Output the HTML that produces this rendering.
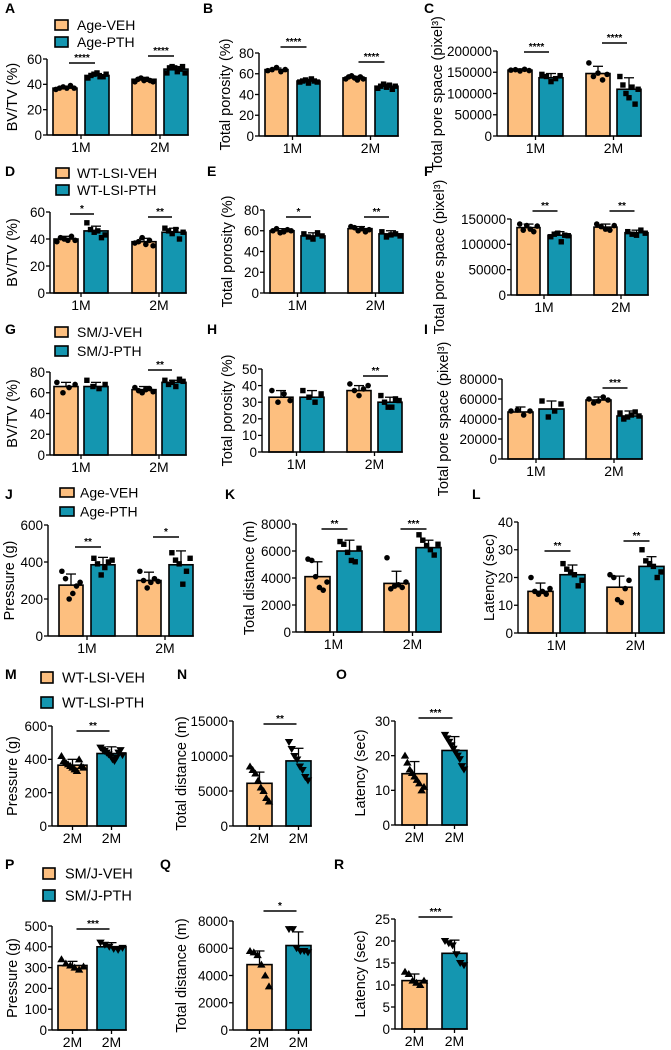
<!DOCTYPE html>
<html><head><meta charset="utf-8">
<style>
html,body{margin:0;padding:0;background:#fff;}
svg{display:block;font-family:"Liberation Sans",Arial,sans-serif;}
</style></head>
<body>
<svg id="fig" width="671" height="1050" viewBox="0 0 671 1050" xmlns="http://www.w3.org/2000/svg"></svg>
<script>
// ---- data arrays ----
const catsA=['1M','2M']; const vehA=[37,44]; const pthA=[47,52]; const vehSdA=[1,1.5]; const pthSdA=[1.5,2];
const vehPtsA=[[36,37,38,37,39,37],[42,44,45,43,44,43,42]]; const pthPtsA=[[45,47,48,49,46,46,48],[49,53,54,53,50,52,54,49]]; const ticksA=[0,20,40,60];
const catsB=['1M','2M']; const vehB=[64,56]; const pthB=[53,48]; const vehSdB=[1.5,1.5]; const pthSdB=[1.5,2];
const vehPtsB=[[63,64,66,62,64],[55,57,58,56,54,57,55]]; const pthPtsB=[[52,53,54,51,55,53,52],[46,48,50,47,49,45,48]]; const ticksB=[0,20,40,60,80];
const catsC=['1M','2M']; const vehC=[155000,147000]; const pthC=[137000,110000]; const vehSdC=[3000,17000]; const pthSdC=[10000,27000];
const vehPtsC=[[155000,156000,153000,157000,154000],[172000,140000,148000,132000,145000]]; const pthPtsC=[[145000,140000,128000,135000,142000],[140000,120000,100000,90000,115000,75000,110000]]; const ticksC=[0,50000,100000,150000,200000];
const catsD=['1M','2M']; const vehD=[40,38]; const pthD=[46,45]; const vehSdD=[2,2.5]; const pthSdD=[3.5,3];
const vehPtsD=[[38,41,40,39,42,39],[37,38,41,36,39,35]]; const pthPtsD=[[52,47,45,46,41,43],[48,46,44,47,40,45]]; const ticksD=[0,20,40,60];
const catsE=['1M','2M']; const vehE=[60,62]; const pthE=[55,57]; const vehSdE=[2,2]; const pthSdE=[3,3];
const vehPtsE=[[60,62,58,59,61,60],[64,63,60,62,59,61]]; const pthPtsE=[[57,54,52,58,55],[59,54,56,57,55]]; const ticksE=[0,20,40,60,80];
const catsF=['1M','2M']; const vehF=[133000,134000]; const pthF=[118000,123000]; const vehSdF=[7000,6000]; const pthSdF=[7000,5000];
const vehPtsF=[[140000,128000,137000,130000,125000,136000],[140000,135000,130000,128000,137000]]; const pthPtsF=[[115000,120000,122000,105000,118000,117000],[125000,120000,118000,128000,122000]]; const ticksF=[0,50000,100000,150000];
const catsG=['1M','2M']; const vehG=[66,63]; const pthG=[66,70]; const vehSdG=[4,3]; const pthSdG=[4,2];
const vehPtsG=[[70,60,65,68],[65,62,60,63,64,61]]; const pthPtsG=[[72,66,64,68],[72,68,70,66,73,71]]; const ticksG=[0,20,40,60,80];
const catsH=['1M','2M']; const vehH=[33,37]; const pthH=[33,30]; const vehSdH=[4,3]; const pthSdH=[4,3];
const vehPtsH=[[37,30,35,31],[41,37,34,38,40]]; const pthPtsH=[[37,33,30,35],[34,30,27,27,32,31]]; const ticksH=[0,10,20,30,40,50];
const catsI=['1M','2M']; const vehI=[47000,59000]; const pthI=[50000,43000]; const vehSdI=[5000,3000]; const pthSdI=[8000,5000];
const vehPtsI=[[48000,49000,44000,48000],[60000,56000,58000,62000,59000]]; const pthPtsI=[[58000,42000,48000,55000],[46000,40000,42000,44000,47000,43000]]; const ticksI=[0,20000,40000,60000,80000];
const catsJ=['1M','2M']; const vehJ=[275,300]; const pthJ=[385,385]; const vehSdJ=[60,45]; const pthSdJ=[40,75];
const vehPtsJ=[[350,310,200,230,270,290],[350,300,260,290,310,295]]; const pthPtsJ=[[420,390,330,370,400,410],[450,410,390,280,350,420]]; const ticksJ=[0,200,400,600];
const catsK=['1M','2M']; const vehK=[4100,3600]; const pthK=[6000,6250]; const vehSdK=[1100,900]; const pthSdK=[800,550];
const vehPtsK=[[5400,5300,4100,3300,3100,3700],[5500,3200,3400,3500,3300,3700]]; const pthPtsK=[[6700,6500,5900,5300,5200,6200],[7200,6800,6400,6100,5700,6500]]; const ticksK=[0,2000,4000,6000,8000];
const catsL=['1M','2M']; const vehL=[15,16.5]; const pthL=[21,24]; const vehSdL=[3,4]; const pthSdL=[3.5,3.5];
const vehPtsL=[[20,15,14,15,14,16],[21,20,12,11,16,19]]; const pthPtsL=[[25,23,22,21,17,19],[30,26,25,24,20,22]]; const ticksL=[0,10,20,30,40];
const catsM=['2M']; const vehM=[365]; const pthM=[435]; const vehSdM=[35]; const pthSdM=[40];
const vehPtsM=[[420,390,380,370,360,350,340,330,400,360,350]]; const pthPtsM=[[470,460,450,440,430,420,400,390,410,440,455,425]]; const ticksM=[0,200,400,600];
const catsN=['2M']; const vehN=[6100]; const pthN=[9300]; const vehSdN=[1600]; const pthSdN=[1800];
const vehPtsN=[[8500,8000,7500,6500,5500,5000,4000,3500]]; const pthPtsN=[[12000,11000,10000,9500,8500,8000,7000,6500]]; const ticksN=[0,5000,10000,15000];
const catsO=['2M']; const vehO=[14.8]; const pthO=[21.5]; const vehSdO=[3.5]; const pthSdO=[4];
const vehPtsO=[[20,18,16,15,14,13,12,10,11]]; const pthPtsO=[[26,25,24,23,22,21,20,19,17,16]]; const ticksO=[0,10,20,30];
const catsP=['2M']; const vehP=[310]; const pthP=[400]; const vehSdP=[20]; const pthSdP=[20];
const vehPtsP=[[340,320,310,300,290,305]]; const pthPtsP=[[420,410,400,390,385,395]]; const ticksP=[0,100,200,300,400,500];
const catsQ=['2M']; const vehQ=[4800]; const pthQ=[6200]; const vehSdQ=[1000]; const pthSdQ=[1000];
const vehPtsQ=[[5800,5700,5500,4800,4000,3200]]; const pthPtsQ=[[7400,7400,6000,5800,5800,5700]]; const ticksQ=[0,2000,4000,6000,8000];
const catsR=['2M']; const vehR=[11]; const pthR=[17.2]; const vehSdR=[1.5]; const pthSdR=[3];
const vehPtsR=[[13,12.5,11,10.5,10,11]]; const pthPtsR=[[20,19.5,19,17,15,14.5]]; const ticksR=[0,5,10,15,20,25];

const ORANGE='#FDBF7F', TEAL='#1496B0';
const NS='http://www.w3.org/2000/svg';
const svg=document.getElementById('fig');
function mk(tag,attrs,parent){const e=document.createElementNS(NS,tag);for(const k in attrs)e.setAttribute(k,attrs[k]);(parent||svg).appendChild(e);return e;}

const panels=[
 {id:'a',L:{x0:47,yTop:59,y0:135,max:60,off:6,w:24,gap:8,stride:79,tx:13,title:'BV/TV (%)',lx:5,ly:13,letter:'A'},cats:catsA,veh:vehA,pth:pthA,vsd:vehSdA,psd:pthSdA,vp:vehPtsA,pp:pthPtsA,ticks:ticksA,sig:[[0,63,'****'],[1,56,'****']],shape:'cs'},
 {id:'b',L:{x0:259,yTop:53,y0:136,max:80,off:6,w:23,gap:9,stride:78,tx:226,title:'Total porosity (%)',lx:203,ly:13,letter:'B'},cats:catsB,veh:vehB,pth:pthB,vsd:vehSdB,psd:pthSdB,vp:vehPtsB,pp:pthPtsB,ticks:ticksB,sig:[[0,47,'****'],[1,62,'****']],shape:'cs'},
 {id:'c',L:{x0:497,yTop:51,y0:136,max:200000,off:11,w:24,gap:7,stride:78,tx:438,title:'Total pore space (pixel³)',lx:424,ly:13,letter:'C'},cats:catsC,veh:vehC,pth:pthC,vsd:vehSdC,psd:pthSdC,vp:vehPtsC,pp:pthPtsC,ticks:ticksC,sig:[[0,52,'****'],[1,43,'****']],shape:'cs'},
 {id:'d',L:{x0:50,yTop:212,y0:293,max:60,off:4,w:24,gap:6,stride:78,tx:13,title:'BV/TV (%)',lx:5,ly:176,letter:'D'},cats:catsD,veh:vehD,pth:pthD,vsd:vehSdD,psd:pthSdD,vp:vehPtsD,pp:pthPtsD,ticks:ticksD,sig:[[0,214,'*'],[1,217,'**']],shape:'cs'},
 {id:'e',L:{x0:264,yTop:210,y0:293,max:80,off:6,w:24,gap:7,stride:78,tx:228,title:'Total porosity (%)',lx:207,ly:176,letter:'E'},cats:catsE,veh:vehE,pth:pthE,vsd:vehSdE,psd:pthSdE,vp:vehPtsE,pp:pthPtsE,ticks:ticksE,sig:[[0,217,'*'],[1,217,'**']],shape:'cs'},
 {id:'f',L:{x0:511,yTop:219,y0:295,max:150000,off:6,w:23,gap:8,stride:77,tx:440,title:'Total pore space (pixel³)',lx:424,ly:176,letter:'F'},cats:catsF,veh:vehF,pth:pthF,vsd:vehSdF,psd:pthSdF,vp:vehPtsF,pp:pthPtsF,ticks:ticksF,sig:[[0,211,'**'],[1,211,'**']],shape:'cs'},
 {id:'g',L:{x0:50,yTop:372,y0:455,max:80,off:4,w:24,gap:6,stride:78,tx:13,title:'BV/TV (%)',lx:5,ly:334,letter:'G'},cats:catsG,veh:vehG,pth:pthG,vsd:vehSdG,psd:pthSdG,vp:vehPtsG,pp:pthPtsG,ticks:ticksG,sig:[[1,370,'**']],shape:'cs'},
 {id:'h',L:{x0:262,yTop:369,y0:452,max:50,off:7,w:24,gap:7,stride:78,tx:228,title:'Total porosity (%)',lx:207,ly:334,letter:'H'},cats:catsH,veh:vehH,pth:pthH,vsd:vehSdH,psd:pthSdH,vp:vehPtsH,pp:pthPtsH,ticks:ticksH,sig:[[1,376,'**']],shape:'cs'},
 {id:'i',L:{x0:502,yTop:379,y0:459,max:80000,off:6,w:25,gap:6,stride:78,tx:444,title:'Total pore space (pixel³)',lx:424,ly:334,letter:'I'},cats:catsI,veh:vehI,pth:pthI,vsd:vehSdI,psd:pthSdI,vp:vehPtsI,pp:pthPtsI,ticks:ticksI,sig:[[1,388,'***']],shape:'cs'},
 {id:'j',L:{x0:48,yTop:525,y0:636,max:600,off:11,w:24,gap:8,stride:78,tx:10,title:'Pressure (g)',lx:5,ly:499,letter:'J'},cats:catsJ,veh:vehJ,pth:pthJ,vsd:vehSdJ,psd:pthSdJ,vp:vehPtsJ,pp:pthPtsJ,ticks:ticksJ,sig:[[0,547,'**'],[1,537,'*']],shape:'cs'},
 {id:'k',L:{x0:296,yTop:524,y0:632,max:8000,off:9,w:25,gap:7,stride:79,tx:250,title:'Total distance (m)',lx:225,ly:499,letter:'K'},cats:catsK,veh:vehK,pth:pthK,vsd:vehSdK,psd:pthSdK,vp:vehPtsK,pp:pthPtsK,ticks:ticksK,sig:[[0,529,'**'],[1,529,'***']],shape:'cs'},
 {id:'l',L:{x0:518,yTop:522,y0:633,max:40,off:10,w:25,gap:7,stride:79,tx:490,title:'Latency (sec)',lx:472,ly:499,letter:'L'},cats:catsL,veh:vehL,pth:pthL,vsd:vehSdL,psd:pthSdL,vp:vehPtsL,pp:pthPtsL,ticks:ticksL,sig:[[0,551,'**'],[1,541,'**']],shape:'cs'},
 {id:'m',L:{x0:52,yTop:726,y0:826,max:600,off:6,w:29,gap:10,stride:0,tx:13,title:'Pressure (g)',lx:5,ly:679,letter:'M',single:true},cats:catsM,veh:vehM,pth:pthM,vsd:vehSdM,psd:pthSdM,vp:vehPtsM,pp:pthPtsM,ticks:ticksM,sig:[[0,731,'**']],shape:'tri'},
 {id:'n',L:{x0:233,yTop:721,y0:826,max:15000,off:14,w:25,gap:14,stride:0,tx:182,title:'Total distance (m)',lx:177,ly:679,letter:'N',single:true},cats:catsN,veh:vehN,pth:pthN,vsd:vehSdN,psd:pthSdN,vp:vehPtsN,pp:pthPtsN,ticks:ticksN,sig:[[0,724,'**']],shape:'tri'},
 {id:'o',L:{x0:395,yTop:721,y0:825,max:30,off:7,w:25,gap:15,stride:0,tx:361,title:'Latency (sec)',lx:336,ly:679,letter:'O',single:true},cats:catsO,veh:vehO,pth:pthO,vsd:vehSdO,psd:pthSdO,vp:vehPtsO,pp:pthPtsO,ticks:ticksO,sig:[[0,718,'***']],shape:'tri'},
 {id:'p',L:{x0:52,yTop:926,y0:1030,max:500,off:6,w:29,gap:10,stride:0,tx:13,title:'Pressure (g)',lx:5,ly:869,letter:'P',single:true},cats:catsP,veh:vehP,pth:pthP,vsd:vehSdP,psd:pthSdP,vp:vehPtsP,pp:pthPtsP,ticks:ticksP,sig:[[0,929,'***']],shape:'tri'},
 {id:'q',L:{x0:233,yTop:921,y0:1030,max:8000,off:14,w:25,gap:14,stride:0,tx:182,title:'Total distance (m)',lx:160,ly:869,letter:'Q',single:true},cats:catsQ,veh:vehQ,pth:pthQ,vsd:vehSdQ,psd:pthSdQ,vp:vehPtsQ,pp:pthPtsQ,ticks:ticksQ,sig:[[0,911,'*']],shape:'tri'},
 {id:'r',L:{x0:395,yTop:919,y0:1029,max:25,off:7,w:25,gap:15,stride:0,tx:361,title:'Latency (sec)',lx:334,ly:869,letter:'R',single:true},cats:catsR,veh:vehR,pth:pthR,vsd:vehSdR,psd:pthSdR,vp:vehPtsR,pp:pthPtsR,ticks:ticksR,sig:[[0,917,'***']],shape:'tri'}
];

const legends=[
 {x:55,y:20,h:10,w:13,gap:17,tx:77,fs:14,labels:['Age-VEH','Age-PTH']},
 {x:56,y:168,h:10,w:13,gap:17,tx:77,fs:14,labels:['WT-LSI-VEH','WT-LSI-PTH']},
 {x:55,y:327,h:10,w:13,gap:19,tx:77,fs:14,labels:['SM/J-VEH','SM/J-PTH']},
 {x:60,y:488,h:9,w:14,gap:19,tx:80,fs:14,labels:['Age-VEH','Age-PTH']},
 {x:41,y:672,h:11,w:12,gap:25,tx:62,fs:14.5,labels:['WT-LSI-VEH','WT-LSI-PTH']},
 {x:43,y:868,h:11,w:12,gap:22,tx:65,fs:14.5,labels:['SM/J-VEH','SM/J-PTH']}
];

function drawPts(g,vals,cx,w,ys,kind){
  const n=vals.length, spread=w*0.76;
  vals.forEach((v,i)=>{
    const x=n>1?cx-spread/2+spread*i/(n-1):cx, y=ys(v);
    let e;
    if(kind==='c'){e=mk('circle',{cx:x,cy:y,r:2.8,fill:'#000'},g);}
    else if(kind==='s'){e=mk('rect',{x:x-2.7,y:y-2.7,width:5.4,height:5.4,fill:'#000'},g);}
    else if(kind==='up'){e=mk('path',{d:`M${x},${y-4}L${x+4.2},${y+3}L${x-4.2},${y+3}Z`,fill:'#000'},g);}
    else {e=mk('path',{d:`M${x},${y+4}L${x+4.2},${y-3}L${x-4.2},${y-3}Z`,fill:'#000'},g);}
    
    
  });
}

panels.forEach(p=>{
  const L=p.L;
  const g=mk('g',{});
  
  
  const ys=v=>L.y0-v/L.max*(L.y0-L.yTop);
  const lt=mk('text',{x:L.lx,y:L.ly,'font-size':14,'font-weight':'bold'},g); lt.textContent=L.letter;
  
  
  const barSlots=[];
  p.cats.forEach((c,ci)=>{
    const gx=L.x0+L.off+ci*L.stride;
    barSlots.push({ci,x:gx,val:p.veh[ci],sd:p.vsd[ci],pts:p.vp[ci],fill:ORANGE,kind:p.shape==='cs'?'c':'up',ser:'veh'});
    barSlots.push({ci,x:gx+L.w+L.gap,val:p.pth[ci],sd:p.psd[ci],pts:p.pp[ci],fill:TEAL,kind:p.shape==='cs'?'s':'down',ser:'pth'});
  });
  let xEnd=L.x0;
  barSlots.forEach(b=>{
    const cx=b.x+L.w/2, yt=ys(b.val);
    const eb=mk('line',{x1:cx,x2:cx,y1:yt,y2:ys(b.val+b.sd),stroke:'#000','stroke-width':1.3},g);
    
    
    const cap=mk('line',{x1:cx-5,x2:cx+5,y1:ys(b.val+b.sd),y2:ys(b.val+b.sd),stroke:'#000','stroke-width':1.3},g);
    
    
    const r=mk('rect',{x:b.x,y:yt,width:L.w,height:L.y0-yt,fill:b.fill,stroke:'#000','stroke-width':1.6},g);
    
    
    drawPts(g,b.pts,cx,L.w,ys,b.kind);
    xEnd=Math.max(xEnd,b.x+L.w+0.8);
  });
  const ya=mk('line',{x1:L.x0,x2:L.x0,y1:L.y0,y2:L.yTop,stroke:'#000','stroke-width':1.4},g);
  
  
  const xa=mk('line',{x1:L.x0,x2:xEnd,y1:L.y0,y2:L.y0,stroke:'#000','stroke-width':1.4},g);
  
  
  p.ticks.forEach(t=>{
    const y=ys(t);
    mk('line',{x1:L.x0-4,x2:L.x0,y1:y,y2:y,stroke:'#000','stroke-width':1.3},g);
    const tx=mk('text',{x:L.x0-5,y:y+4.8,'font-size':13.5,'text-anchor':'end'},g); tx.textContent=String(t);
    
    
  });
  const catPos=[];
  if(L.single){ barSlots.forEach(b=>catPos.push([b.x+L.w/2,p.cats[b.ci]])); }
  else { p.cats.forEach((c,ci)=>catPos.push([L.x0+L.off+ci*L.stride+L.w+L.gap/2,c])); }
  catPos.forEach(([x,c])=>{
    mk('line',{x1:x,x2:x,y1:L.y0,y2:L.y0+4,stroke:'#000','stroke-width':1.3},g);
    const t=mk('text',{x:x,y:L.y0+17,'font-size':14,'text-anchor':'middle'},g); t.textContent=c;
    
    
  });
  const ym=(L.y0+L.yTop)/2;
  const tt=mk('text',{x:0,y:0,'font-size':14.5,'text-anchor':'middle',transform:`translate(${L.tx+4},${ym}) rotate(-90)`},g);
  tt.textContent=L.title;
  
  
  p.sig.forEach(([ci,y,s])=>{
    const b1=barSlots[ci*2], b2=barSlots[ci*2+1];
    const x1=b1.x+L.w/2+4, x2=b2.x+L.w/2-2;
    const sl=mk('line',{x1:x1,x2:x2,y1:y,y2:y,stroke:'#000','stroke-width':1.5},g);
    
    
    const st=mk('text',{x:(x1+x2)/2,y:y-2,'font-size':10,'text-anchor':'middle','font-weight':'bold'},g); st.textContent=s;
    
    
  });
});

legends.forEach(lg=>{
  lg.labels.forEach((lab,i)=>{
    const y=lg.y+i*lg.gap;
    const r=mk('rect',{x:lg.x,y:y,width:lg.w,height:lg.h,fill:i?TEAL:ORANGE,stroke:'#000','stroke-width':1.6});
    
    
    const t=mk('text',{x:lg.tx,y:y+lg.h/2+5,'font-size':lg.fs});
    t.textContent=lab;
    
    
  });
});
</script>
</body></html>
